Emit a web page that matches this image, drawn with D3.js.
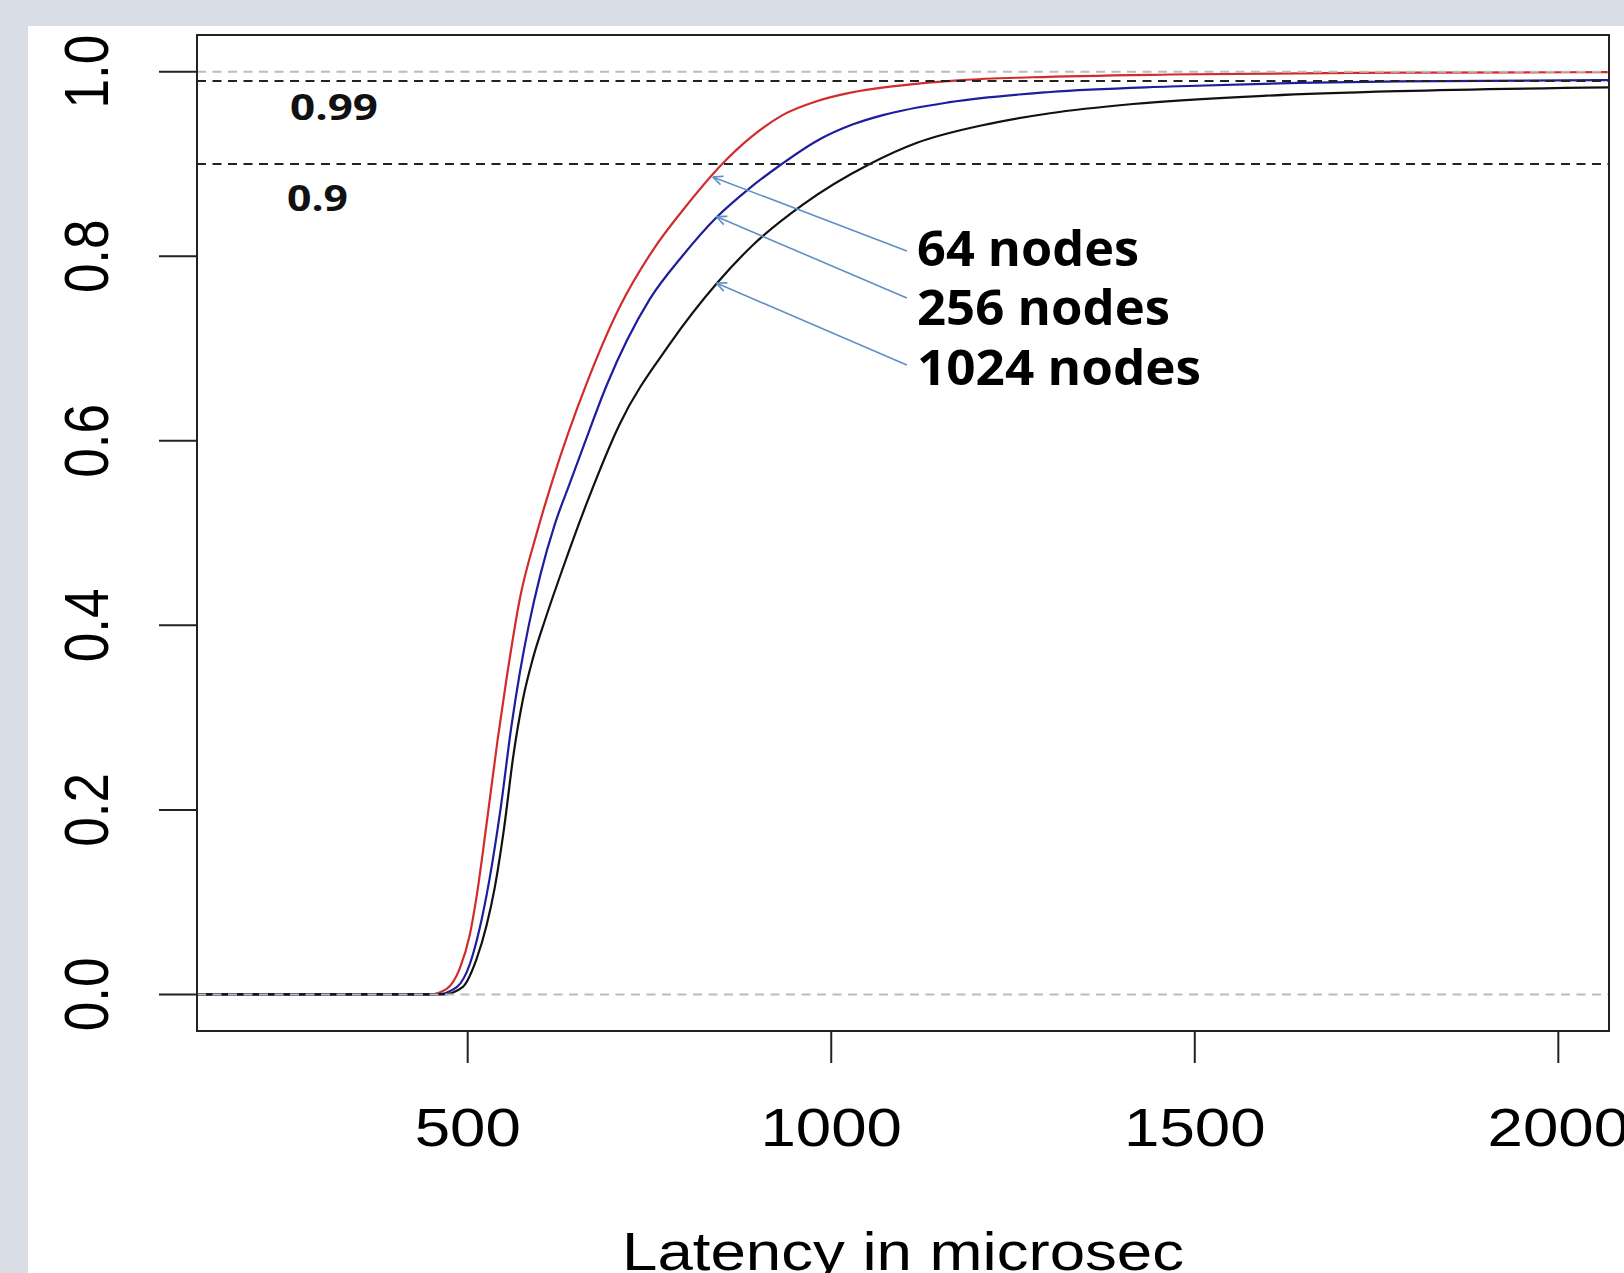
<!DOCTYPE html>
<html>
<head>
<meta charset="utf-8">
<script src="https://cdn.jsdelivr.net/npm/d3@7"></script>
<style>
body{margin:0;background:#d8dde6;}
</style>
</head>
<body>
<div id="chart"></div>
<script>
// latency cdf, three cluster sizes
var lat64 =[127,448,471,489,503,512,526,541,553,572,595,617,664,709,755,801,850,888,933,980,1025,1094,1180,1277,1466,1782,2070];
var cdf64 =[0,0,.006,.028,.065,.105,.185,.275,.34,.43,.5,.558,.663,.745,.807,.855,.9,.928,.953,.968,.977,.985,.991,.994,.997,.999,.9995];
var lat256=[127,457,485,503,516,530,545,560,572,584,600,620,640,662,691,750,795,842,885,932,980,1030,1071,1163,1301,1466,1644,1782,2070];
var cdf256=[0,0,.008,.033,.07,.125,.2,.29,.35,.4,.455,.51,.553,.6,.66,.753,.8,.842,.872,.9,.925,.943,.953,.967,.978,.984,.988,.9895,.991];
var lat1024=[127,466,493,512,526,537,550,563,576,590,606,630,664,709,778,843,892,961,1053,1118,1208,1301,1415,1599,1782,2070];
var cdf1024=[0,0,.008,.038,.075,.115,.18,.26,.32,.365,.405,.46,.533,.618,.705,.771,.812,.856,.9,.923,.942,.955,.965,.974,.979,.983];

var seriesNames=['64 nodes','256 nodes','1024 nodes'];
var seriesColors=['#d22b2b','#1d1d9e','#111111'];

var xTicks=[500,1000,1500,2000];
var yTicks=[0,0.2,0.4,0.6,0.8,1.0];
var yTickLabels=['0.0','0.2','0.4','0.6','0.8','1.0'];

var greyLevels=[0,1];
var markLevels=[0.99,0.9];
var markLabels=['0.99','0.9'];
var markLabelPos=[[255.6,.9477],[251.5,.849]];

// arrow heads sit on the curves, tails near the labels
var arrowHeads=[[837,.886],[842,.843],[842,.771]];
var arrowTails=[[1104,.8057],[1104,.7548],[1104,.6822]];
var labelPos=[[1118,.789],[1118,.725],[1118,.661]];

var W=1624,H=1273;
var box={l:197,r:1609,t:35,b:1031};
var sx=1.2; // the original picture is stretched sideways a bit

var svg=d3.select('#chart').append('svg')
    .attr('width',W).attr('height',H)
    .style('display','block');

svg.append('rect').attr('width',W).attr('height',H).attr('fill','#d8dde6');
svg.append('rect').attr('x',28).attr('y',26).attr('width',W-28).attr('height',H-26).attr('fill','#fff');

var x=d3.scaleLinear().domain([127.7,2069.7]).range([box.l,box.r]);
var y=d3.scaleLinear().domain([-0.0396,1.0398]).range([box.b,box.t]);

var defs=svg.append('defs');
defs.append('clipPath').attr('id','clip')
    .append('rect').attr('x',box.l).attr('y',box.t)
    .attr('width',box.r-box.l).attr('height',box.b-box.t);

var marker=defs.append('marker')
    .attr('id','ahead')
    .attr('viewBox','0 -6 12 12')
    .attr('refX',0).attr('refY',0)
    .attr('markerUnits','userSpaceOnUse')
    .attr('markerWidth',12).attr('markerHeight',12)
    .attr('orient','auto');
marker.append('path')
    .attr('d','M10,-4.5L0,0L10,4.5')
    .attr('fill','none')
    .attr('stroke','#5f8fc6')
    .attr('stroke-width',1.6);

// curves, red first so black ends up on top like the original
var series=[[lat64,cdf64],[lat256,cdf256],[lat1024,cdf1024]];
var line=d3.line()
    .x(function(d){return x(d[0]);})
    .y(function(d){return y(d[1]);})
    .curve(d3.curveMonotoneX);

var plot=svg.append('g').attr('clip-path','url(#clip)');
plot.selectAll('.cdf')
    .data(series).enter()
    .append('path')
    .attr('class','cdf')
    .attr('d',function(s){return line(d3.zip(s[0],s[1]));})
    .attr('fill','none')
    .attr('stroke',function(s,i){return seriesColors[i];})
    .attr('stroke-width',2.2);

// reference lines on top like abline()
plot.selectAll('.grey')
    .data(greyLevels).enter()
    .append('line')
    .attr('x1',box.l).attr('x2',box.r)
    .attr('y1',function(d){return y(d);}).attr('y2',function(d){return y(d);})
    .attr('stroke','#bcbcbc').attr('stroke-width',2)
    .attr('stroke-dasharray','9,6.5');

plot.selectAll('.mark')
    .data(markLevels).enter()
    .append('line')
    .attr('x1',box.l).attr('x2',box.r)
    .attr('y1',function(d){return y(d);}).attr('y2',function(d){return y(d);})
    .attr('stroke','#222').attr('stroke-width',2)
    .attr('stroke-dasharray','9,6.5');

// box
svg.append('rect')
    .attr('x',box.l).attr('y',box.t)
    .attr('width',box.r-box.l).attr('height',box.b-box.t)
    .attr('fill','none').attr('stroke','#222').attr('stroke-width',2);

// x axis
var xa=svg.append('g');
xa.selectAll('line').data(xTicks).enter().append('line')
    .attr('x1',function(d){return x(d);}).attr('x2',function(d){return x(d);})
    .attr('y1',box.b).attr('y2',box.b+32)
    .attr('stroke','#222').attr('stroke-width',2);
xa.selectAll('text').data(xTicks).enter().append('text')
    .attr('transform',function(d){return 'translate('+x(d)+',1146) scale('+sx+',1)';})
    .attr('text-anchor','middle')
    .attr('font-family','"Liberation Sans", Arial, sans-serif')
    .attr('font-size','53px')
    .attr('fill','#000')
    .text(function(d){return d;});

// y axis
var ya=svg.append('g');
ya.selectAll('line').data(yTicks).enter().append('line')
    .attr('x1',box.l-38).attr('x2',box.l)
    .attr('y1',function(d){return y(d);}).attr('y2',function(d){return y(d);})
    .attr('stroke','#222').attr('stroke-width',2);
ya.selectAll('text').data(yTicks).enter().append('text')
    .attr('transform',function(d){return 'translate(108,'+y(d)+') scale('+sx+',1) rotate(-90)';})
    .attr('text-anchor','middle')
    .attr('font-family','"Liberation Sans", Arial, sans-serif')
    .attr('font-size','53px')
    .attr('fill','#000')
    .text(function(d,i){return yTickLabels[i];});

svg.append('text')
    .attr('transform','translate('+((box.l+box.r)/2)+',1270) scale('+sx+',1)')
    .attr('text-anchor','middle')
    .attr('font-family','"Liberation Sans", Arial, sans-serif')
    .attr('font-size','53px')
    .attr('fill','#000')
    .text('Latency in microsec');

// 0.99 / 0.9 labels
var markWidths=[88,61];
svg.selectAll('.mlab').data(markLabels).enter().append('text')
    .attr('class','mlab')
    .attr('x',function(d,i){return x(markLabelPos[i][0]);})
    .attr('y',function(d,i){return y(markLabelPos[i][1]);})
    .attr('font-family','"Open Sans", sans-serif')
    .attr('font-weight','bold')
    .attr('font-size','36px')
    .attr('textLength',function(d,i){return markWidths[i];})
    .attr('lengthAdjust','spacingAndGlyphs')
    .attr('fill','#111')
    .text(function(d){return d;});

// arrows + node labels
svg.selectAll('.arrow').data(arrowHeads).enter().append('line')
    .attr('class','arrow')
    .attr('x1',function(d){return x(d[0]);})
    .attr('y1',function(d){return y(d[1]);})
    .attr('x2',function(d,i){return x(arrowTails[i][0]);})
    .attr('y2',function(d,i){return y(arrowTails[i][1]);})
    .attr('stroke','#5f8fc6').attr('stroke-width',1.6)
    .attr('marker-start','url(#ahead)');

var nodeWidths=[222,253,284];
svg.selectAll('.nlab').data(seriesNames).enter().append('text')
    .attr('class','nlab')
    .attr('x',function(d,i){return x(labelPos[i][0]);})
    .attr('y',function(d,i){return y(labelPos[i][1]);})
    .attr('font-family','"Open Sans", sans-serif')
    .attr('font-weight','bold')
    .attr('font-size','48px')
    .attr('textLength',function(d,i){return nodeWidths[i];})
    .attr('lengthAdjust','spacingAndGlyphs')
    .attr('fill','#000')
    .text(function(d){return d;});
</script>
</body>
</html>
